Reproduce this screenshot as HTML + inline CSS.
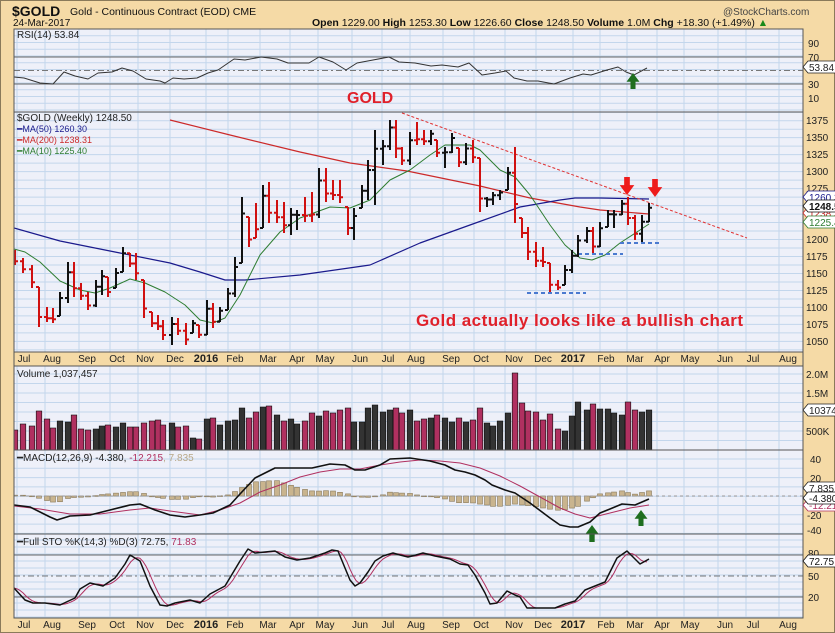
<!DOCTYPE html>
<html><head><meta charset="utf-8"><style>
html,body{margin:0;padding:0;background:#f5daa6;}
svg{display:block;font-family:"Liberation Sans",sans-serif;}
</style></head><body>
<svg id="c" width="835" height="633" viewBox="0 0 835 633" xmlns="http://www.w3.org/2000/svg">
<defs><clipPath id="cp"><rect x="14" y="0" width="789" height="633"/></clipPath></defs>
<rect x="0" y="0" width="835" height="633" fill="#f5daa6"/>
<rect x="0.5" y="0.5" width="834" height="632" fill="none" stroke="#8a7a5a"/>
<g id="bg"></g>
<g id="grid"></g>
<g id="data" clip-path="url(#cp)"></g>
<g id="frames"></g>
<!-- header -->
<text x="12" y="16" font-size="14" font-weight="bold" fill="#111">$GOLD</text>
<text x="70" y="15" font-size="10.5" fill="#111">Gold - Continuous Contract (EOD) CME</text>
<text x="13" y="26" font-size="10" fill="#111">24-Mar-2017</text>
<text x="723" y="15" font-size="10" fill="#444">@StockCharts.com</text>
<text x="312" y="26" font-size="10.5" fill="#111"><tspan font-weight="bold">Open</tspan> 1229.00 <tspan font-weight="bold">High</tspan> 1253.30 <tspan font-weight="bold">Low</tspan> 1226.60 <tspan font-weight="bold">Close</tspan> 1248.50 <tspan font-weight="bold">Volume</tspan> 1.0M <tspan font-weight="bold">Chg</tspan> +18.30 (+1.49%) <tspan fill="#1a8a1a">▲</tspan></text>
<!-- panel titles -->
<text x="17" y="38" font-size="10" fill="#222">RSI(14) 53.84</text>
<text x="17" y="121" font-size="10" fill="#222">$GOLD (Weekly) 1248.50</text>
<text x="17" y="132" font-size="9" fill="#1a1a8c">━MA(50) 1260.30</text>
<text x="17" y="143" font-size="9" fill="#cc2a2a">━MA(200) 1238.31</text>
<text x="17" y="154" font-size="9" fill="#2e7d32">━MA(10) 1225.40</text>
<text x="17" y="377" font-size="10" fill="#222">Volume 1,037,457</text>
<text x="17" y="461" font-size="10" fill="#222">━MACD(12,26,9) -4.380, <tspan fill="#b03060">-12.215</tspan><tspan fill="#b8a888">, 7.835</tspan></text>
<text x="17" y="545" font-size="10" fill="#222">━Full STO %K(14,3) %D(3) 72.75, <tspan fill="#b03060">71.83</tspan></text>
<!-- annotations -->
<text x="347" y="103" font-size="16" font-weight="bold" fill="#e0202a">GOLD</text>
<text x="416" y="326" font-size="17" font-weight="bold" fill="#e0202a" textLength="327">Gold actually looks like a bullish chart</text>
<!-- right axis labels -->
<g font-size="10" fill="#222" id="raxis">
<text x="808" y="47">90</text><text x="808" y="61">70</text><text x="808" y="88">30</text><text x="808" y="102">10</text>
<text x="806" y="124">1375</text><text x="806" y="141">1350</text><text x="806" y="158">1325</text><text x="806" y="175">1300</text>
<text x="806" y="192">1275</text><text x="806" y="243">1200</text><text x="806" y="260">1175</text>
<text x="806" y="277">1150</text><text x="806" y="294">1125</text><text x="806" y="311">1100</text><text x="806" y="328">1075</text><text x="806" y="345">1050</text>
<text x="806" y="378">2.0M</text><text x="806" y="397">1.5M</text><text x="806" y="435">500K</text>
<text x="810" y="463">40</text><text x="810" y="482">20</text><text x="807" y="519">-20</text><text x="807" y="534">-40</text>
<text x="808" y="557">80</text><text x="808" y="580">50</text><text x="808" y="601">20</text>
</g>
<g id="tags"></g>
<g id="months" font-size="10" fill="#222"></g>
</svg>
<script>
const NS="http://www.w3.org/2000/svg";
function el(p,t,a,txt){const e=document.createElementNS(NS,t);for(const k in a)e.setAttribute(k,a[k]);if(txt!==undefined)e.textContent=txt;document.getElementById(p).appendChild(e);return e;}
const L=14,R=803;
const panels=[[29,112],[112,352],[366,450],[450,534],[534,618]];
panels.forEach(p=>el('bg','rect',{x:L,y:p[0],width:R-L,height:p[1]-p[0],fill:'#eef0f9'}));
const vg=[17,45,79,110,138,170,206,228,260,290,318,352,382,410,443,474,505,536,573,600,627,657,684,718,746,779];
panels.forEach(p=>vg.forEach(x=>el('grid','line',{x1:x,x2:x,y1:p[0],y2:p[1],stroke:'#c3d6ec','stroke-width':1})));
function hg(y1,y2,step,start){for(let y=start;y<y2;y+=step)if(y>y1)el('grid','line',{x1:L,x2:R,y1:y,y2:y,stroke:'#c3d6ec'});}
hg(29,112,6.75,29); 
const py=p=>120.7+(1375-p)*0.679;
for(let p=1037.5;p<=1387.5;p+=12.5){const y=py(p);if(y>112&&y<352)el('grid','line',{x1:L,x2:R,y1:y,y2:y,stroke:'#c3d6ec'});}
hg(366,450,9.5,374);hg(450,534,9.3,459);hg(534,618,7,540);
[[57,'#666',''],[84,'#666',''],[70.5,'#777','6,3,2,3']].forEach(a=>el('grid','line',{x1:L,x2:R,y1:a[0],y2:a[0],stroke:a[1],'stroke-dasharray':a[2]}));
[[555,'#666',''],[597,'#666',''],[576,'#777','6,3,2,3']].forEach(a=>el('grid','line',{x1:L,x2:R,y1:a[0],y2:a[0],stroke:a[1],'stroke-dasharray':a[2]}));
panels.forEach(p=>el('frames','rect',{x:L,y:p[0],width:R-L,height:p[1]-p[0],fill:'none',stroke:'#555'}));
el('frames','rect',{x:L,y:352,width:R-L,height:14,fill:'#f5daa6',stroke:'#555'});
const mon=[['Jul',24],['Aug',52],['Sep',87],['Oct',117],['Nov',145],['Dec',175],['2016',206,1],['Feb',235],['Mar',268],['Apr',297],['May',325],['Jun',360],['Jul',388],['Aug',416],['Sep',451],['Oct',481],['Nov',514],['Dec',543],['2017',573,1],['Feb',606],['Mar',635],['Apr',662],['May',690],['Jun',725],['Jul',753],['Aug',788]];
mon.forEach(m=>{[362,628].forEach(y=>el('months','text',{x:m[1],y:y,'text-anchor':'middle','font-weight':m[2]?'bold':'normal','font-size':m[2]?11:10},m[0]));});
const B=[[15,250,265,'R'],[23,258,273,'R'],[32,265,288,'R'],[39,287,327,'R'],[47,307,322,'R'],[53,308,323,'R'],[60,292,316,'K'],[68,262,303,'K'],[74,262,297,'R'],[81,283,300,'R'],[88,292,310,'R'],[96,280,307,'K'],[102,270,295,'K'],[108,277,297,'R'],[116,268,288,'K'],[123,247,272,'K'],[130,253,267,'R'],[136,253,280,'R'],[144,280,318,'R'],[152,312,327,'R'],[158,315,330,'R'],[163,320,340,'R'],[172,317,345,'K'],[178,318,335,'R'],[186,323,345,'R'],[193,320,333,'K'],[199,325,338,'R'],[207,300,335,'K'],[213,303,328,'R'],[220,307,322,'K'],[228,288,310,'K'],[235,257,297,'K'],[242,197,263,'K'],[249,217,247,'R'],[256,203,238,'R'],[263,185,228,'K'],[269,182,223,'R'],[277,200,223,'R'],[284,202,233,'R'],[291,208,235,'K'],[297,210,230,'K'],[305,197,222,'R'],[312,192,222,'R'],[319,168,218,'K'],[326,168,202,'R'],[333,180,200,'R'],[340,180,203,'R'],[348,207,235,'R'],[354,208,240,'K'],[362,185,208,'K'],[368,160,200,'K'],[375,130,205,'K'],[383,140,165,'K'],[390,120,150,'K'],[396,120,158,'R'],[402,147,165,'R'],[410,132,165,'K'],[417,122,145,'R'],[424,130,145,'R'],[431,130,145,'K'],[437,140,157,'R'],[445,147,168,'K'],[452,133,153,'K'],[459,148,167,'R'],[466,143,165,'K'],[473,140,163,'R'],[480,158,212,'R'],[487,197,207,'K'],[493,192,205,'K'],[500,190,200,'K'],[508,167,190,'K'],[515,147,223,'R'],[522,218,238,'R'],[528,227,260,'R'],[536,242,267,'R'],[543,247,267,'R'],[550,263,292,'R'],[558,280,290,'R'],[565,265,285,'K'],[572,250,273,'K'],[578,235,257,'K'],[587,227,243,'K'],[593,227,253,'R'],[600,222,247,'K'],[608,210,227,'K'],[614,210,228,'K'],[622,200,215,'K'],[628,197,225,'R'],[635,215,240,'R'],[642,215,242,'K'],[649,203,222,'K']];
function poly(pts,st,w,dash){el('data','polyline',{points:pts.map(p=>p.join(',')).join(' '),fill:'none',stroke:st,'stroke-width':w||1,'stroke-dasharray':dash||'','stroke-linejoin':'round'});}
poly([[170,120],[230,135],[300,152],[350,163],[407,171],[480,186],[530,198],[580,207],[600,210],[649,214]],'#cc2a2a',1.2);
poly([[14,228],[60,241],[120,253],[170,263],[200,272],[225,280],[245,280],[300,275],[370,265],[420,243],[470,225],[520,207],[560,200],[575,198],[600,198],[649,199]],'#1a1a8c',1.2);
poly([[14,249],[25,252],[40,262],[60,281],[80,290],[95,293],[110,288],[130,279],[145,283],[165,292],[185,305],[200,320],[213,323],[225,318],[240,295],[260,255],[280,232],[300,218],[330,207],[350,208],[370,200],[390,180],[410,170],[430,155],[445,145],[470,145],[480,150],[500,170],[515,177],[530,195],[550,225],[565,245],[580,258],[592,260],[605,255],[620,243],[640,230],[649,224]],'#2e7d32',1);
poly([[402,113],[747,238]],'#e03030',1,'3,2');
poly([[527,293],[586,293]],'#4a7ad0',2,'4,3');
poly([[578,254],[623,254]],'#4a7ad0',2,'4,3');
poly([[620,243],[660,243]],'#4a7ad0',2,'4,3');
let prevC=null;
B.forEach(b=>{const [x,h,l,c]=b;const col=c=='R'?'#d01010':'#111';const r=l-h;
 const cl=c=='K'?h+0.25*r:l-0.25*r;let op=prevC===null?(h+l)/2:Math.min(l,Math.max(h,prevC));
 el('data','line',{x1:x,x2:x,y1:h,y2:l,stroke:col,'stroke-width':2});
 el('data','line',{x1:x-3,x2:x,y1:op,y2:op,stroke:col,'stroke-width':2});
 el('data','line',{x1:x,x2:x+3,y1:cl,y2:cl,stroke:col,'stroke-width':2});prevC=cl;});
function arrow(x,y1,y2,col,up){const w=(y2-y1);const cx=x;const s=w*0.45;
 let p;if(!up)p=[[cx-s*0.35,y1],[cx+s*0.35,y1],[cx+s*0.35,y1+w*0.45],[cx+s*0.9,y1+w*0.45],[cx,y2],[cx-s*0.9,y1+w*0.45],[cx-s*0.35,y1+w*0.45]];
 else p=[[cx-s*0.35,y2],[cx+s*0.35,y2],[cx+s*0.35,y1+w*0.55],[cx+s*0.9,y1+w*0.55],[cx,y1],[cx-s*0.9,y1+w*0.55],[cx-s*0.35,y1+w*0.55]];
 el('data','polygon',{points:p.map(q=>q.join(',')).join(' '),fill:col});}
arrow(627,177,195,'#ee1c1c',false);arrow(655,179,197,'#ee1c1c',false);
poly([[14,77],[24,78],[40,83],[53,84],[64,72],[75,76],[88,79],[98,73],[112,72],[122,68],[133,71],[146,79],[160,81],[165,83],[173,78],[184,79],[197,78],[208,73],[218,70],[234,59],[245,60],[261,57],[277,59],[288,63],[298,63],[309,63],[319,57],[333,62],[346,70],[357,63],[373,60],[389,57],[399,62],[415,63],[431,66],[442,65],[458,67],[469,63],[482,75],[495,73],[506,71],[514,78],[527,81],[538,81],[554,84],[570,78],[583,74],[591,75],[607,70],[618,67],[626,72],[634,75],[647,68]],'#333',1);
arrow(633,73,89,'#1f6e1f',true);
const V=[430,424,426,411,419,428,421,422,415,429,430,429,426,425,427,423,427,427,423,421,420,425,423,427,426,438,439,419,418,425,421,420,408,418,412,407,406,415,421,419,424,421,413,416,411,413,410,408,422,422,408,405,412,410,408,413,410,421,419,418,415,418,422,418,422,420,408,423,426,421,413,373,403,411,412,420,414,429,431,416,402,410,404,409,409,413,415,402,410,412,410];
const VC=['R','R','R','R','R','R','K','K','R','R','R','K','K','R','K','K','R','R','R','R','R','R','K','R','R','K','R','K','R','K','K','K','K','R','R','K','R','K','R','K','K','R','R','K','R','R','R','R','K','K','K','K','K','K','R','R','K','R','R','K','R','K','K','R','K','R','R','K','K','K','K','R','R','R','R','R','R','R','K','K','K','K','R','K','K','K','K','R','R','K','K'];
B.forEach((b,i)=>{const y=V[i]||420;el('data','rect',{x:b[0]-2.8,y:y,width:5.6,height:450-y,fill:VC[i]=='R'?'#b03060':'#333',stroke:'#111','stroke-width':0.6});});
const M=[[14,505],[30,507],[50,517],[57,520],[70,516],[90,515],[110,510],[130,505],[140,504],[155,510],[170,515],[185,517],[200,515],[213,513],[230,505],[240,494],[255,478],[275,468],[312,468],[330,464],[345,465],[355,470],[365,470],[380,465],[390,459],[410,458],[430,461],[445,465],[455,470],[465,472],[475,475],[485,480],[492,485],[505,490],[515,493],[530,503],[550,518],[560,525],[570,527],[578,527],[590,522],[600,513],[610,509],[622,504],[635,505],[649,499]];
const S=[[14,506],[40,509],[70,514],[100,514],[130,510],[150,508],[170,511],[200,515],[220,510],[240,503],[260,492],[280,485],[300,477],[320,472],[340,469],[360,469],[380,465],[400,462],[420,460],[440,461],[460,463],[480,468],[500,476],[520,486],[540,497],[560,508],[575,514],[590,518],[610,513],[630,508],[649,505]];
function interp(arr,x){for(let i=0;i<arr.length-1;i++){if(x>=arr[i][0]&&x<=arr[i+1][0]){const t=(x-arr[i][0])/(arr[i+1][0]-arr[i][0]);return arr[i][1]+t*(arr[i+1][1]-arr[i][1]);}}return arr[arr.length-1][1];}
B.forEach(b=>{const x=b[0];const h=(interp(S,x)-interp(M,x))*0.85;const y=h>0?496-h:496;el('data','rect',{x:x-2.5,y:y,width:5,height:Math.max(Math.abs(h),0.8),fill:'#c9b48e',stroke:'#8a7a5a','stroke-width':0.6});});
el('data','line',{x1:L,x2:R,y1:496,y2:496,stroke:'#999','stroke-dasharray':'3,3'});
poly(S,'#b03060',1);poly(M,'#111',1.6);
arrow(592,525,542,'#1f6e1f',true);arrow(641,510,526,'#1f6e1f',true);
const K=[[14,588],[25,600],[33,603],[45,603],[60,605],[75,598],[80,589],[90,583],[103,586],[115,578],[125,564],[130,555],[140,561],[150,586],[160,605],[167,606],[175,603],[190,600],[200,603],[210,594],[225,586],[240,561],[248,549],[255,553],[275,551],[285,557],[297,560],[310,558],[325,553],[332,550],[338,551],[345,568],[350,580],[355,586],[360,583],[368,572],[375,561],[383,556],[393,553],[400,555],[408,557],[416,555],[423,553],[435,556],[450,559],[460,564],[468,565],[475,575],[485,593],[490,604],[497,603],[507,591],[515,595],[520,597],[527,608],[540,608],[555,608],[565,604],[575,601],[585,590],[605,582],[617,558],[627,551],[640,564],[649,559]];
const D=[];for(let x=14;x<=649;x+=3){let s=0;for(let k=0;k<4;k++)s+=interp(K,Math.max(14,x-k*3));D.push([x,s/4]);}
poly(D,'#b03060',1);poly(K,'#111',1.5);
function tag(y,txt,fg,bg,bold){const w=txt.length*5.8+6;el('tags','polygon',{points:`803,${y} 808,${y-6} ${808+w},${y-6} ${808+w},${y+6} 808,${y+6}`,fill:bg,stroke:fg,'stroke-width':0.8});el('tags','text',{x:809,y:y+4,'font-size':10,fill:fg,'font-weight':bold?'bold':'normal'},txt);}
tag(67,'53.84','#222','#fff');
tag(197,'1260.3','#1a1a8c','#fff');tag(213,'1238.3','#cc2a2a','#fff');tag(222,'1225.4','#2e7d32','#fff');tag(206,'1248.5','#111','#fff',true);
tag(410,'10374','#222','#fff');
tag(488,'7.835','#222','#fff');tag(505,'-12.21','#b03060','#fff');tag(498,'-4.380','#111','#fff');
tag(561,'72.75','#111','#fff');
</script>
</body></html>
